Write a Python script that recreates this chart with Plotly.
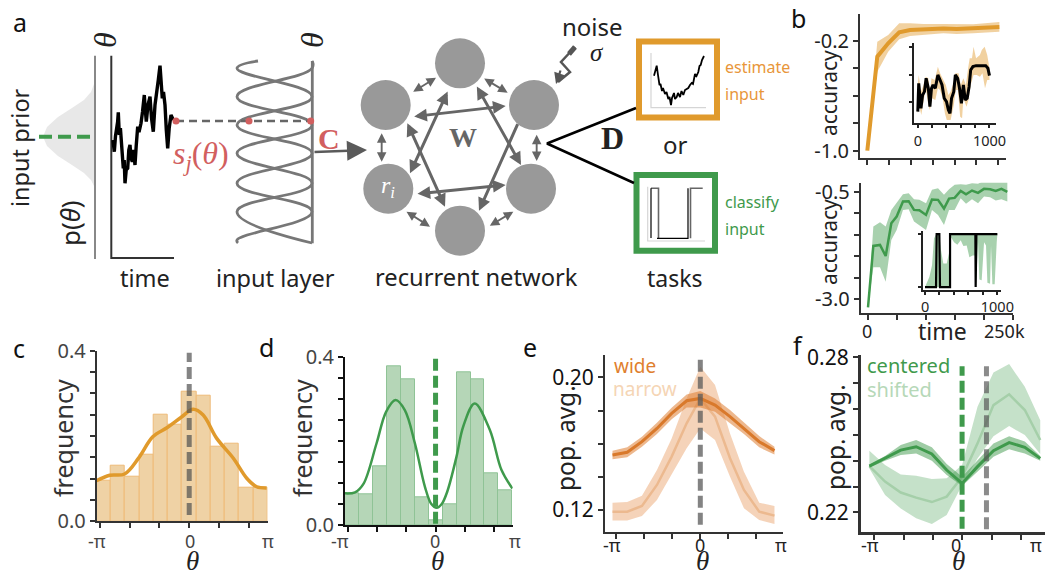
import plotly.graph_objects as go

# ---------- colours ----------
ORANGE = "#e09a2c"; GREEN = "#3f9a4c"; RED = "#d25f5f"; GRAY = "#777777"
DARK = "#333333"; NODE = "#999999"; ARROW = "#666666"
SANS = "Noto Sans"; SERIF = "Liberation Serif"

# ---------- panel c ----------
bin_centers = [-3, -2.5, -2, -1.5, -1, -.5, 0, .5, 1, 1.5, 2, 2.5]
c_freq = [.095, .13, .104, .155, .25, .226, .303, .294, .174, .181, .078, .078]
c_kde_x = [-3.26, -2.79, -2.27, -1.78, -1.28, -.77, -.28, .14, .49, .96, 1.55, 2.02, 2.37, 2.72]
c_kde_y = [.095, .108, .111, .148, .198, .22, .244, .2625, .249, .195, .148, .101, .081, .078]
# ---------- panel d ----------
d_freq = [.0755, .074, .141, .379, .348, .067, .012, .05, .365, .348, .124, .083]
d_kde_x = [-3.24, -2.88, -2.58, -2.11, -1.77, -1.43, -1.10, -.74, -.38, -.15, .04, .22, .42, .75, .99, 1.40, 1.94, 2.36, 2.75]
d_kde_y = [.0755, .078, .098, .195, .27, .298, .274, .195, .091, .05, .041, .05, .08, .163, .235, .29, .227, .131, .087]
# ---------- panel e ----------
e_x = [-3.28, -2.73, -2.18, -1.62, -1.07, -.51, 0, .55, 1.11, 1.63, 2.2, 2.77]
wide = [.1532, .1548, .1612, .1692, .1783, .1859, .1873, .1833, .1763, .1692, .1612, .1558]
wide_hi = [.1558, .1578, .1642, .1727, .1817, .1897, .1918, .1873, .1803, .1727, .1646, .1582]
wide_lo = [.1506, .1518, .1582, .1658, .1747, .1819, .1819, .1793, .1723, .1658, .1578, .1534]
narrow = [.119, .119, .1224, .1351, .1522, .1723, .1873, .1763, .1512, .1321, .119, .1166]
narrow_hi = [.1244, .1248, .1286, .1441, .1632, .1873, .2064, .1954, .1662, .1431, .1244, .1224]
narrow_lo = [.1136, .1136, .1164, .126, .1411, .1572, .1692, .1622, .1401, .121, .114, .1116]
# ---------- panel f ----------
f_x = [-3.31, -2.75, -2.19, -1.64, -1.08, -.55, 0, .55, 1.12, 1.68, 2.24, 2.79]
centered = [.2379, .2409, .2441, .2454, .2426, .2364, .2312, .2377, .2439, .247, .2452, .2409]
centered_hi = [.2385, .2418, .2461, .248, .2452, .2387, .2338, .24, .2467, .2495, .2474, .2418]
centered_lo = [.2374, .24, .2422, .2428, .24, .2345, .2302, .2357, .2415, .2444, .2428, .24]
shifted = [.2379, .2319, .2277, .2257, .224, .2261, .2338, .2467, .2615, .2657, .2596, .248]
shifted_hi = [.2439, .2383, .2347, .2342, .2329, .2332, .2383, .2609, .2741, .2774, .2686, .2557]
shifted_lo = [.237, .2267, .2215, .2177, .2155, .219, .2306, .2409, .2495, .2534, .2499, .2426]
# ---------- panel b, top ----------
bt_x = [0, 17.2, 36, 55, 73.6, 96.6, 131, 154, 182.6, 227.6]
bt = [-1.0, -.314, -.217, -.137, -.12, -.115, -.108, -.112, -.108, -.098]
bt_hi = [-1.0, -.205, -.156, -.071, -.071, -.076, -.076, -.078, -.078, -.061]
bt_lo = [-1.0, -.424, -.278, -.188, -.164, -.154, -.144, -.149, -.144, -.132]
# ---------- panel b, bottom ----------
bb_x = [0, 9.2, 20.7, 30.5, 40.2, 49.4, 60.3, 70.1, 79.3, 88.5, 100, 110.3, 120.7, 131, 139.7, 149.4, 159.8, 169, 179.3, 189.7, 200, 210.5, 220.2, 230, 240.2]
bb = [-3.186, -1.762, -1.738, -1.994, -1.235, -1.08, -.732, -.724, -.926, -.933, -1.042, -.686, -.693, -.895, -.663, -.647, -.485, -.562, -.477, -.531, -.438, -.446, -.485, -.438, -.508]
bb_hi = [-3.186, -1.313, -1.212, -1.313, -.926, -.771, -.562, -.539, -.678, -.693, -.771, -.461, -.423, -.577, -.446, -.345, -.33, -.345, -.306, -.322, -.245, -.245, -.268, -.229, -.245]
bb_lo = [-3.186, -2.257, -2.257, -2.59, -1.622, -1.39, -.926, -.91, -1.197, -1.274, -1.39, -.926, -1.042, -1.274, -.926, -.926, -.655, -.786, -.678, -.771, -.616, -.632, -.709, -.678, -.732]
# ---------- inset, top ----------
it_x = [0, 13, 44, 67, 93, 116, 147, 169, 191, 213, 244, 280, 311, 338, 369, 400, 427, 449, 471, 502, 524, 556, 582, 609, 636, 662, 689, 716, 738, 769, 813, 867, 902, 947, 978, 1000]
it_y = [35, 120, 45, 85, 95, 135, 105, 50, 105, 115, 105, 145, 130, 115, 75, 65, 40, 30, 75, 95, 145, 135, 105, 60, 115, 70, 75, 110, 160, 170, 173, 173, 172, 173, 165, 143]
it_hi_x = [0, 13, 44, 80, 111, 147, 169, 191, 236, 280, 311, 347, 391, 427, 458, 502, 524, 569, 600, 636, 671, 702, 724, 756, 778, 813, 867, 893, 933, 969, 1000]
it_hi_y = [115, 145, 95, 115, 140, 135, 95, 135, 130, 170, 150, 135, 115, 85, 95, 125, 150, 150, 115, 135, 115, 165, 195, 195, 230, 195, 205, 220, 230, 205, 165]
it_lo_x = [0, 22, 49, 80, 111, 147, 169, 200, 244, 280, 311, 347, 378, 404, 458, 502, 529, 560, 591, 618, 636, 680, 707, 738, 778, 822, 867, 902, 938, 969, 1000]
it_lo_y = [30, 50, 25, 65, 105, 55, 40, 75, 70, 105, 100, 75, 30, 10, 10, 55, 100, 100, 20, 15, 75, 50, 70, 115, 145, 145, 140, 150, 105, 130, 130]
# ---------- inset, bottom ----------
ib_x = [0, 152, 161, 198, 207, 346, 346, 696, 700, 710, 1000]
ib_y = [0, 0, .99, .99, 0, 0, .99, .99, 0, .99, .99]
ib_band_x = [0, 60, 97, 124, 152, 198, 217, 253, 300, 336, 346, 1000, 991, 963, 931, 912, 899, 862, 843, 816, 783, 751, 733, 705, 696, 659, 613, 576, 530, 493, 447, 401, 355, 346, 0]
ib_band_y = [0, .19, .41, .91, .99, .99, .72, .44, .44, .66, .99, .99, .84, .05, .05, .78, .06, .08, .78, .84, .125, .14, .84, .03, .59, .59, .56, .78, .77, .875, .79, .84, .94, 0, 0]

# ---------- schematic a (drawn on a canvas axis) ----------
prior_val = [95, 94, 91, 84, 72, 58, 47, 43, 47, 58, 72, 84, 91, 94, 95]
prior_pos = [75, 84, 92, 100, 108, 117, 127, 136.7, 146, 156, 165, 173, 180, 186, 191]
walk_t = [113, 114.3, 115.5, 116.7, 117.6, 118.3, 119.3, 120.4, 121.7, 122.5, 123.3, 124.2, 125, 126.2, 127.7, 128.8, 130, 131, 132.3, 133.6, 135, 136.2, 137.7, 139, 141, 142.5, 144.3, 145.3, 146.3, 148, 150, 151.5, 153.3, 155, 156.7, 158.3, 160, 161, 162.3, 163.5, 165, 166.3, 167.7, 169.2, 171, 173.3]
walk_v = [140, 151.7, 136, 128.3, 122, 112.3, 135, 128, 148.3, 156, 168.3, 160, 183.3, 170, 168.3, 150, 145, 158, 161.7, 150, 165, 146, 126.7, 132, 123.3, 112, 95, 110, 121.7, 105, 96.7, 118, 131.7, 105, 88.3, 80, 65.7, 82, 98.3, 92, 105, 130, 148.3, 128, 115, 120]
curve1_x = [258, 237, 312, 237, 312, 237, 312, 237, 238]
curve1_y = [61, 68.3, 96.7, 125, 153.3, 183.3, 211.7, 240, 243]
curve2_x = [312, 312, 237, 312, 237, 312, 237, 312]
curve2_y = [61, 68.3, 96.7, 125, 153.3, 183.3, 211.7, 243]
node_x = [460, 385.7, 534, 388.3, 531, 460]
node_y = [63.3, 105, 105, 188.7, 188.7, 230.7]
thumb1_x = [654, 655.5, 656.7, 658, 659.5, 660.5, 662, 663, 665, 666.5, 668.3, 669.5, 671, 672, 674, 675, 676.7, 678, 680, 681.5, 683.3, 685, 688.3, 690, 691.7, 693, 695, 696.5, 698.3, 699.5, 700.7, 702, 704]
thumb1_y = [75.7, 70, 65.7, 75, 85, 84, 91, 88, 94, 92, 99, 97, 105, 98, 93, 99, 97, 93, 97, 91, 95, 90, 88, 85, 83, 84, 74, 76, 72, 66, 65, 60, 56]
thumb2a_x = [651, 651, None, 657, 688, 688]
thumb2a_y = [238, 188.3, None, 238.3, 238.3, 188.3]
thumb2b_x = [651, 658.5, 658.5, None, 690.5, 690.5, 702.7]
thumb2b_y = [188.3, 188.3, 238.3, None, 238.3, 188.3, 188.3]

fig = go.Figure()
PANELS = {"canvas": 1, "c": 2, "d": 3, "e": 4, "f": 5, "bt": 6, "bb": 7, "it": 8, "ib": 9}

def add(panel, **kw):
    n = PANELS[panel]
    s = "" if n == 1 else str(n)
    kw.setdefault("mode", "lines")
    kw.setdefault("hoverinfo", "skip")
    fig.add_trace(go.Scatter(xaxis="x" + s, yaxis="y" + s, showlegend=False, **kw))

def band(panel, x, hi, lo, color):
    add(panel, x=list(x) + list(x)[::-1], y=list(hi) + list(lo)[::-1], fill="toself",
        fillcolor=color, line=dict(width=0))

def axis_dict(vals, labs, lc, lw, tlen, size, tcolor):
    """Labelled ticks are major ticks, unlabelled ones are minor ticks of the same look."""
    d = dict(showgrid=False, zeroline=False, showline=True, linecolor=lc, linewidth=lw, ticks="outside",
             ticklen=tlen, tickwidth=1.5, tickcolor=lc, tickmode="array",
             tickfont=dict(family=SANS, size=size, color=tcolor))
    if labs:
        d["tickvals"] = [v for v, s in zip(vals, labs) if s]
        d["ticktext"] = [s for s in labs if s]
        d["minor"] = dict(tickmode="array", tickvals=[v for v, s in zip(vals, labs) if not s], ticks="outside",
                          ticklen=tlen, tickwidth=1.5, tickcolor=lc, showgrid=False)
    else:
        d["tickvals"] = vals
        d["showticklabels"] = False
    return d

def axes(panel, px, py, xr, yr, xt, yt, ylab=None, lw=2, lc=DARK, tlen=5, size=20, tcolor=DARK, xlab=None):
    n = PANELS[panel]
    fig.layout["xaxis%d" % n] = dict(domain=[px[0] / 1045, px[1] / 1045], range=xr, anchor="y%d" % n,
                                     **axis_dict(xt, xlab, lc, lw, tlen, size, tcolor))
    fig.layout["yaxis%d" % n] = dict(domain=[1 - py[1] / 577, 1 - py[0] / 577], range=yr, anchor="x%d" % n,
                                     **axis_dict(yt, ylab, lc, lw, tlen, size, tcolor))

notes = []
def T(x, y, text, size=20, color="#222222", angle=0, font=SANS, anchor="center"):
    notes.append(dict(x=x, y=y, xref="x", yref="y", text=text, showarrow=False, textangle=angle,
                      font=dict(family=font, size=size, color=color), xanchor=anchor, yanchor="middle"))

def A(x0, y0, x1, y1, both=True, w=2.5, color=ARROW, hs=1.0):
    notes.append(dict(x=x1, y=y1, ax=x0, ay=y0, xref="x", yref="y", axref="x", ayref="y", text="",
                      showarrow=True, arrowhead=2, arrowsize=hs, arrowwidth=w, arrowcolor=color,
                      arrowside="end+start" if both else "end", startarrowhead=2, startarrowsize=hs))

def Z(zx0, zy0, zx1, zy1, **kw):
    A(340 + zx0 / 3, zy0 / 3, 340 + zx1 / 3, zy1 / 3, **kw)

def ThetaX(x, y):
    T(x, y, "<i>θ</i>", 27, "#222222", 0, SERIF)

def PiLabels(xs, y, color):
    for x, s in zip(xs, ["-π", "0", "π"]):
        T(x, y, s, 18, color)

# canvas axis
fig.layout["xaxis"] = dict(domain=[0, 1], range=[0, 1045], visible=False, anchor="y")
fig.layout["yaxis"] = dict(domain=[0, 1], range=[577, 0], visible=False, anchor="x")

# --- schematic a ---
add("canvas", x=prior_val, y=prior_pos, fill="toself", fillcolor="#e8e8e8", line=dict(width=0))
add("canvas", x=[95, 95], y=[55.7, 259], line=dict(color="#888888", width=2))
add("canvas", x=[39, 90], y=[136.7, 136.7], line=dict(color=GREEN, width=4, dash="13px,6px"))
add("canvas", x=[111.3, 111.3, 174], y=[55.7, 258, 258], line=dict(color=DARK, width=2))
add("canvas", x=walk_t, y=walk_v, line=dict(color="black", width=3.4))
add("canvas", x=curve1_x, y=curve1_y, line=dict(color=GRAY, width=2.8, shape="spline", smoothing=1.3))
add("canvas", x=curve2_x, y=curve2_y, line=dict(color=GRAY, width=2.8, shape="spline", smoothing=1.3))
add("canvas", x=[312.3, 312.3], y=[61, 243.3], line=dict(color=GRAY, width=2.8))
add("canvas", x=[176, 310.7], y=[121, 121], line=dict(color="#666666", width=2.4, dash="8px,5px"))
add("canvas", x=[176, 249, 310.7], y=[121, 121, 121], mode="markers", marker=dict(color=RED, size=7))
# network
add("canvas", x=node_x, y=node_y, mode="markers", marker=dict(color=NODE, size=50, line=dict(width=0)))
# noise bolt
add("canvas", x=[575, 561, 570, 558], y=[47, 62, 72, 82], line=dict(color="#555555", width=2.5))
add("canvas", x=[575, 569], y=[47, 54], line=dict(color="#555555", width=5))
# D fork
add("canvas", x=[636, 547, 634], y=[108, 143.5, 183], line=dict(color="black", width=2.5))
# thumbnails
add("canvas", x=[651, 651, 706], y=[53, 107.7, 107.7], line=dict(color="#d5d5d5", width=1.2))
add("canvas", x=thumb1_x, y=thumb1_y, line=dict(color="black", width=1.8))
add("canvas", x=[647.7, 647.7, 705], y=[186.7, 241, 241], line=dict(color="#d5d5d5", width=1.2))
add("canvas", x=thumb2b_x, y=thumb2b_y, line=dict(color="#666666", width=1.6))
add("canvas", x=thumb2a_x, y=thumb2a_y, line=dict(color="black", width=1.2))

fig.layout.shapes = [
    dict(type="rect", xref="x", yref="y", x0=639, y0=41.5, x1=717, y1=117.5, line=dict(color=ORANGE, width=6), fillcolor="white", layer="below"),
    dict(type="rect", xref="x", yref="y", x0=636.5, y0=175, x1=715, y1=250.8, line=dict(color=GREEN, width=6), fillcolor="white", layer="below"),
]

# small and long arrows of the network
for a in [(215, 278, 288, 233), (428, 233, 503, 278), (125, 395, 125, 485), (590, 400, 590, 483),
          (195, 632, 270, 680), (445, 680, 520, 635)]:
    Z(*a, w=1.9, hs=1.0)
for a in [(218, 350, 497, 318), (228, 582, 497, 555), (325, 270, 210, 520), (200, 365, 315, 620),
          (408, 255, 543, 495)]:
    Z(*a, w=3, hs=.85)
Z(535, 368, 417, 632, both=False, w=3, hs=.85)
A(561, 69, 556, 84, both=False, w=2.2, color="#555555", hs=1.0)
A(313, 152, 367, 150, both=False, w=2.5, color="#5a5a5a", hs=1.6)

T(20, 22, "a", 25, "#111111"); T(798, 18, "b", 25, "#111111"); T(19, 348, "c", 25, "#111111")
T(266, 347, "d", 25, "#111111"); T(530, 347, "e", 25, "#111111"); T(798, 345, "f", 25, "#111111")
T(20, 148, "input prior", 23.5, "#222222", -90)
T(70, 223, "p(<i>θ</i>)", 26, "#222222", -90)
T(105, 40, "<i>θ</i>", 32, "#222222", -90, SERIF)
T(312, 40, "<i>θ</i>", 32, "#222222", -90, SERIF)
T(145, 278, "time", 23.5); T(275, 278, "input layer", 23.5); T(476.7, 277, "recurrent network", 23.7); T(675, 278, "tasks", 23)
T(201, 155, "<i>s<sub>j</sub></i>(<i>θ</i>)", 32, RED, 0, SERIF)
T(329, 138, "<b>C</b>", 30, RED, 0, SERIF)
T(462.7, 137, "<b>W</b>", 28, "#666666", 0, SERIF)
T(388, 187, "<i>r<sub>i</sub></i>", 24, "white", 0, SERIF)
T(592.7, 26, "noise", 24); T(597, 52, "<i>σ</i>", 25, "#222222", 0, SERIF)
T(612.7, 138, "<b>D</b>", 32, "#222222", 0, SERIF); T(675, 144, "or", 24)
T(723, 67, "estimate", 16, "#e8963a", anchor="left"); T(723, 94, "input", 16, "#e8963a", anchor="left")
T(723, 202, "classify", 16, GREEN, anchor="left"); T(723, 229, "input", 16, GREEN, anchor="left")

# --- panel c ---
axes("c", (96.7, 267.5), (350.7, 521.3), [-3.25, 2.75], [0, .4], [-3.14, -2.09, -1.05, 0, 1.05, 2.09],
     [0, .05, .1, .15, .2, .25, .3, .35, .4], ["0.0", "", "", "", "", "", "", "", "0.4"], tcolor="#444444")
fig.add_trace(go.Bar(x=bin_centers, y=c_freq, width=.5, xaxis="x2", yaxis="y2", showlegend=False, hoverinfo="skip",
                     marker=dict(color="#efd2a5", line=dict(color="#eeba78", width=1))))
add("c", x=c_kde_x, y=c_kde_y, line=dict(color=ORANGE, width=3.5, shape="spline"))
add("c", x=[0, 0], y=[.015, .395], line=dict(color="rgba(80,80,80,.7)", width=5, dash="12px,5px"))
T(63, 438, "frequency", 25, "#333333", -90)
PiLabels([97, 190, 268], 541, "#444444")
ThetaX(192, 561)

# --- panel d ---
axes("d", (345, 512.7), (357.3, 525), [-3.24, 2.76], [0, .4], [-3.14, -2.09, -1.05, 0, 1.05, 2.09],
     [0, .05, .1, .15, .2, .25, .3, .35, .4], ["0.0", "", "", "", "", "", "", "", "0.4"], lc="#111111", tcolor="#444444")
fig.add_trace(go.Bar(x=bin_centers, y=d_freq, width=.5, xaxis="x3", yaxis="y3", showlegend=False, hoverinfo="skip",
                     marker=dict(color="#b5d6b7", line=dict(color="#8fc396", width=1))))
add("d", x=d_kde_x, y=d_kde_y, line=dict(color=GREEN, width=2.5, shape="spline"))
add("d", x=[0, 0], y=[.003, .397], line=dict(color=GREEN, width=5, dash="12px,5px"))
T(302, 438, "frequency", 25, "#333333", -90)
PiLabels([340, 435, 515], 541, "#444444")
ThetaX(437, 561)

# --- panel e ---
axes("e", (605, 783.3), (355, 531.7), [-3.56, 3.1], [.1069, .2135], [-3.14, -2.09, -1.05, 0, 1.05, 2.09],
     [.12, .14, .16, .18, .20], ["0.12", "", "", "", "0.20"], size=21, tcolor="#111111")
band("e", e_x, narrow_hi, narrow_lo, "rgba(228,140,70,.38)")
add("e", x=e_x, y=narrow, line=dict(color="#ecb98f", width=2.5))
band("e", e_x, wide_hi, wide_lo, "rgba(222,125,50,.55)")
add("e", x=e_x, y=wide, line=dict(color="#d9792b", width=3))
add("e", x=[0, 0], y=[.1111, .2111], line=dict(color="rgba(90,90,90,.75)", width=5, dash="12px,5px"))
T(565, 438, "pop. avg.", 24.5, "#222222", -90)
T(635, 366, "wide", 19, "#df7f2e"); T(645, 389, "narrow", 19, "#f5d5b5")
PiLabels([612, 700, 781], 545, "#222222")
ThetaX(702, 561)

# --- panel f ---
axes("f", (860.7, 1045), (355, 532.3), [-3.62, 2.96], [.2123, .2809], [-3.14, -2.09, -1.05, 0, 1.05, 2.09],
     [.22, .23, .24, .25, .26, .27, .28], ["0.22", "", "", "", "", "", "0.28"], lw=2.5, size=21, tcolor="#111111")
band("f", f_x, shifted_hi, shifted_lo, "rgba(63,154,76,.3)")
add("f", x=f_x, y=shifted, line=dict(color="#a5cfa9", width=2.5))
band("f", f_x, centered_hi, centered_lo, "rgba(63,154,76,.5)")
add("f", x=f_x, y=centered, line=dict(color=GREEN, width=3))
add("f", x=[0, 0], y=[.2137, .2765], line=dict(color=GREEN, width=5, dash="12px,5px"))
add("f", x=[.87, .87], y=[.2135, .2765], line=dict(color="rgba(90,90,90,.7)", width=5, dash="12px,5px"))
T(835, 437, "pop. avg.", 24.5, "#222222", -90)
T(908, 365, "centered", 20, GREEN); T(899, 389, "shifted", 20, "#b6d8b8")
PiLabels([870, 956, 1036], 545, "#222222")
ThetaX(958, 561)

# --- panel b top ---
axes("bt", (860, 1005.7), (14, 158.3), [-12.6, 238.5], [-1.056, -.003], [0, 37.6, 75.2, 112.8, 150.4, 188, 225.6],
     [-1, -.8, -.6, -.4, -.2], ["-1.0", "", "", "", "-0.2"], tcolor="#222222", size=20)
band("bt", bt_x, bt_hi, bt_lo, "rgba(224,154,44,.45)")
add("bt", x=bt_x, y=bt, line=dict(color=ORANGE, width=4))
T(829, 93, "accuracy", 21, "#222222", -90)

# --- panel b bottom ---
axes("bb", (860.7, 1013.3), (182.7, 312.7), [-12.6, 250.5], [-3.31, -.295], [0, 50, 100, 150, 200, 250],
     [-3, -2.5, -2, -1.5, -1, -.5], ["-3.0", "", "", "", "", "-0.5"], tcolor="#222222", size=20)
band("bb", bb_x, bb_hi, bb_lo, "rgba(63,154,76,.45)")
add("bb", x=bb_x, y=bb, line=dict(color=GREEN, width=2.5))
T(829, 242, "accuracy", 21, "#222222", -90)
T(867, 331, "0", 18); T(942, 331, "time", 23); T(1004, 331, "250k", 18)

# --- insets ---
axes("it", (914, 995.7), (43.3, 123.3), [-53, 1087], [0, 240], [0, 200, 400, 600, 800, 1000],
     [63, 145, 228], None, xlab=["0", "", "", "", "", "1000"], size=14.5, tlen=3, lc="#222222", tcolor="#222222")
add("it", x=it_hi_x + it_lo_x[::-1], y=it_hi_y + it_lo_y[::-1], fill="toself",
    fillcolor="rgba(224,154,44,.45)", line=dict(width=0))
add("it", x=it_x, y=it_y, line=dict(color="black", width=3))

axes("ib", (922.7, 1000.7), (231.3, 289.7), [-32, 1046], [-.05, 1.044], [0, 200, 400, 600, 800, 1000],
     [0, 1], None, xlab=["0", "", "", "", "", "1000"], size=14.5, tlen=3, lc="#222222", tcolor="#222222")
add("ib", x=ib_band_x, y=ib_band_y, fill="toself", fillcolor="rgba(63,154,76,.45)", line=dict(width=0))
add("ib", x=ib_x, y=ib_y, line=dict(color="black", width=2.2))

fig.update_layout(width=1045, height=577, margin=dict(l=0, r=0, t=0, b=0, autoexpand=False), plot_bgcolor="rgba(0,0,0,0)",
                  paper_bgcolor="white", barmode="overlay", bargap=0, annotations=notes, showlegend=False)
fig.write_html("out.html", post_script="document.body.style.margin='0';", config={"displayModeBar": False})
